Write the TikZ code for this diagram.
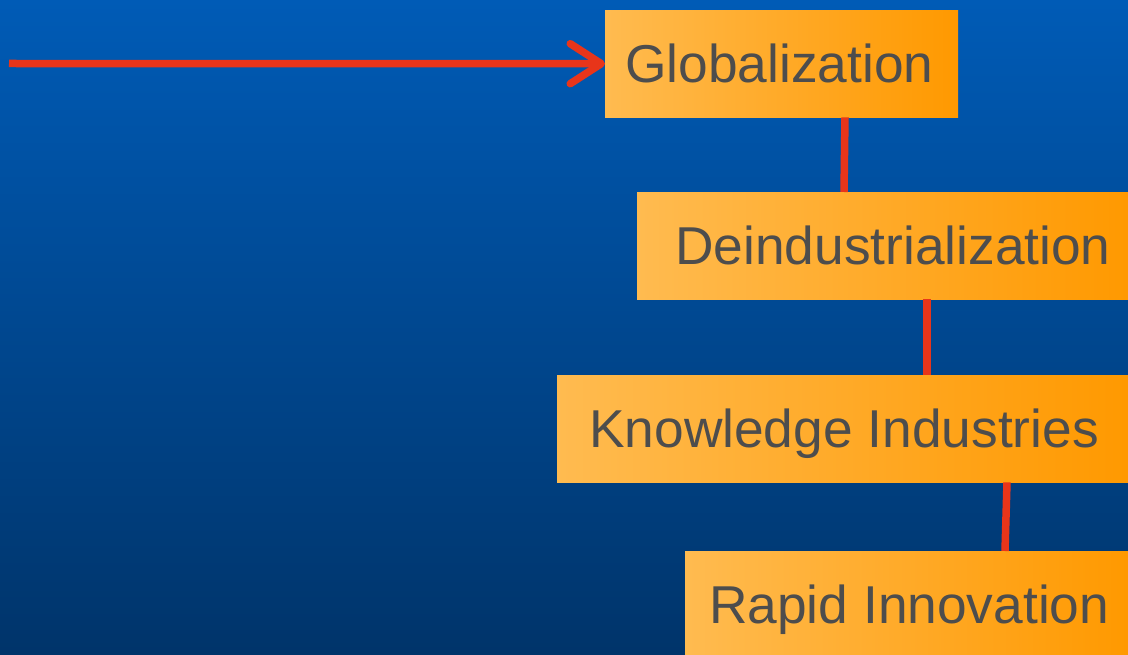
\documentclass[tikz,border=0pt]{standalone}
\usepackage{fontspec}
\setmainfont{Liberation Sans}
\usetikzlibrary{arrows.meta}
\definecolor{bgtop}{RGB}{0,91,182}
\definecolor{bgbot}{RGB}{0,52,106}
\definecolor{boxL}{RGB}{255,187,80}
\definecolor{boxR}{RGB}{255,153,0}
\definecolor{linkred}{RGB}{232,53,26}
\definecolor{ink}{RGB}{77,77,77}
% box with its label set flush left after a given indent
\newcommand\stagetext[3]{\makebox[#1][l]{\hspace*{#2}#3}}
\tikzset{
  stage/.style={rectangle, anchor=north west, inner sep=0pt,
    minimum height=107pt, left color=boxL, right color=boxR,
    text=ink, font=\fontsize{53.3}{60}\selectfont,
    text height=38pt, text depth=0pt},
  link/.style={draw=linkred, line width=7.5pt},
}
\begin{document}
\begin{tikzpicture}[x=1pt,y=-1pt]
  \useasboundingbox (0,0) rectangle (1128,655);
  \shade[top color=bgtop, bottom color=bgbot] (0,0) rectangle (1128,655);

  \node[stage, minimum width=353pt] (g) at (605,10)
    {\stagetext{353pt}{20pt}{Globalization}};
  \node[stage, minimum width=493pt] (d) at (637,192)
    {\stagetext{493pt}{38pt}{Deindustrialization}};
  \node[stage, minimum width=573pt] (k) at (557,375)
    {\stagetext{573pt}{32pt}{Knowledge Industries}};
  \node[stage, minimum width=445pt] (r) at (685,551)
    {\stagetext{445pt}{24pt}{Rapid Innovation}};

  \coordinate (start) at (9,63.5);
  \draw[link, -{Straight Barb[length=31pt,width=40pt,round]}] (start) -- (g.west);

  \draw[link] ([xshift=240pt]g.south west) -- ([xshift=207pt]d.north west);
  \draw[link] ([xshift=290pt]d.south west) -- ([xshift=370pt]k.north west);
  \draw[link] ([xshift=450pt]k.south west) -- ([xshift=320pt]r.north west);
\end{tikzpicture}
\end{document}
